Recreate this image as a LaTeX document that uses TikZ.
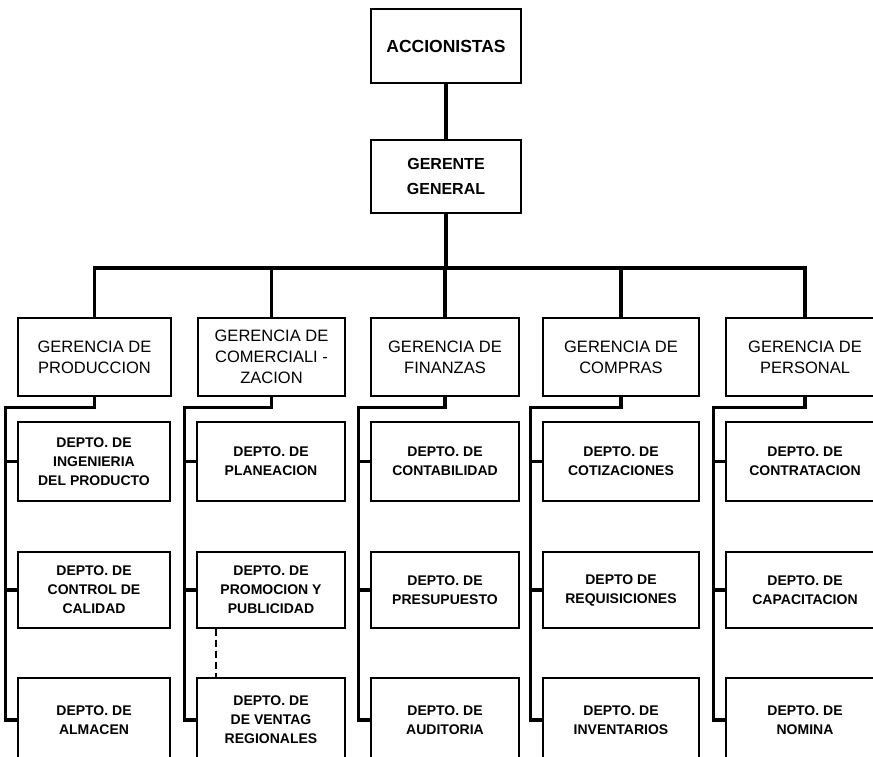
\documentclass[tikz,border=0pt]{standalone}
\usepackage{fontspec}
\setmainfont{Liberation Sans}
\begin{document}
\begin{tikzpicture}[x=1pt,y=-1pt,
    box/.style={draw,line width=1.4pt,inner sep=0pt,align=center},
    topbox/.style={box,minimum width=150pt,font=\fontsize{16}{25}\selectfont\bfseries},
    gerbox/.style={box,minimum height=78pt,font=\fontsize{16.5}{21}\selectfont},
    deptbox/.style={box,font=\fontsize{14}{19}\selectfont\bfseries},
    conn/.style={line width=3.2pt}]
    \useasboundingbox (0,0) rectangle (873,757);
    \fill[white] (0,0) rectangle (873,757);
    % top of the chart
    \node[topbox,minimum height=74pt,font=\fontsize{17.5}{25}\selectfont\bfseries] (acc) at (446,46) {ACCIONISTAS};
    \node[topbox,minimum height=73pt] (gg) at (446,176.5) {GERENTE\\GENERAL};
    % gerencias
    \node[gerbox,minimum width=153pt] (g1) at (94.5,357) {GERENCIA DE\\PRODUCCION};
    \node[gerbox,minimum width=147pt] (g2) at (271.5,357) {GERENCIA DE\\COMERCIALI -\\ZACION};
    \node[gerbox,minimum width=148pt] (g3) at (445,357) {GERENCIA DE\\FINANZAS};
    \node[gerbox,minimum width=156pt] (g4) at (621,357) {GERENCIA DE\\COMPRAS};
    \node[gerbox,minimum width=158pt] (g5) at (805,357) {GERENCIA DE\\PERSONAL};
    % departamentos
    \node[deptbox,minimum width=152pt,minimum height=79pt] (d11) at (94,461.5) {DEPTO. DE\\INGENIERIA\\DEL PRODUCTO};
    \node[deptbox,minimum width=152pt,minimum height=76pt] (d12) at (94,590) {DEPTO. DE\\CONTROL DE\\CALIDAD};
    \node[deptbox,minimum width=152pt,minimum height=84pt] (d13) at (94,720) {DEPTO. DE\\ALMACEN};
    \node[deptbox,minimum width=148pt,minimum height=79pt] (d21) at (271,461.5) {DEPTO. DE\\PLANEACION};
    \node[deptbox,minimum width=148pt,minimum height=76pt] (d22) at (271,590) {DEPTO. DE\\PROMOCION Y\\PUBLICIDAD};
    \node[deptbox,minimum width=148pt,minimum height=84pt] (d23) at (271,720) {DEPTO. DE\\DE VENTAG\\REGIONALES};
    \node[deptbox,minimum width=148pt,minimum height=79pt] (d31) at (445,461.5) {DEPTO. DE\\CONTABILIDAD};
    \node[deptbox,minimum width=148pt,minimum height=76pt] (d32) at (445,590) {DEPTO. DE\\PRESUPUESTO};
    \node[deptbox,minimum width=148pt,minimum height=84pt] (d33) at (445,720) {DEPTO. DE\\AUDITORIA};
    \node[deptbox,minimum width=156pt,minimum height=79pt] (d41) at (621,461.5) {DEPTO. DE\\COTIZACIONES};
    \node[deptbox,minimum width=156pt,minimum height=76pt] (d42) at (621,590) {DEPTO DE\\REQUISICIONES};
    \node[deptbox,minimum width=156pt,minimum height=84pt] (d43) at (621,720) {DEPTO. DE\\INVENTARIOS};
    \node[deptbox,minimum width=158pt,minimum height=79pt] (d51) at (805,461.5) {DEPTO. DE\\CONTRATACION};
    \node[deptbox,minimum width=158pt,minimum height=76pt] (d52) at (805,590) {DEPTO. DE\\CAPACITACION};
    \node[deptbox,minimum width=158pt,minimum height=84pt] (d53) at (805,720) {DEPTO. DE\\NOMINA};
    % lines
    \coordinate (bus) at (446,268);
    \draw[conn] (acc) -- (gg);
    \draw[conn] (gg.south) -- (gg.south |- bus);
    \draw[conn] (g1.north) -- (g1.north |- bus) -| (g5.north);
    \foreach \g in {g2,g3,g4}
        \draw[conn] (\g.north) -- (\g.north |- bus);
    \foreach \c in {1,...,5}{
        \draw[conn] (g\c.south) -- ++(0,11) -| ([xshift=-12pt]d\c3.west) -- (d\c3.west);
        \draw[conn] (d\c1.west) -- ++(-12,0);
        \draw[conn] (d\c2.west) -- ++(-12,0);
    }
    \coordinate (dsh) at (216,0);
    \draw[line width=1.3pt,dash pattern=on 7pt off 4pt] (d22.south -| dsh) -- (d23.north -| dsh);
\end{tikzpicture}
\end{document}
